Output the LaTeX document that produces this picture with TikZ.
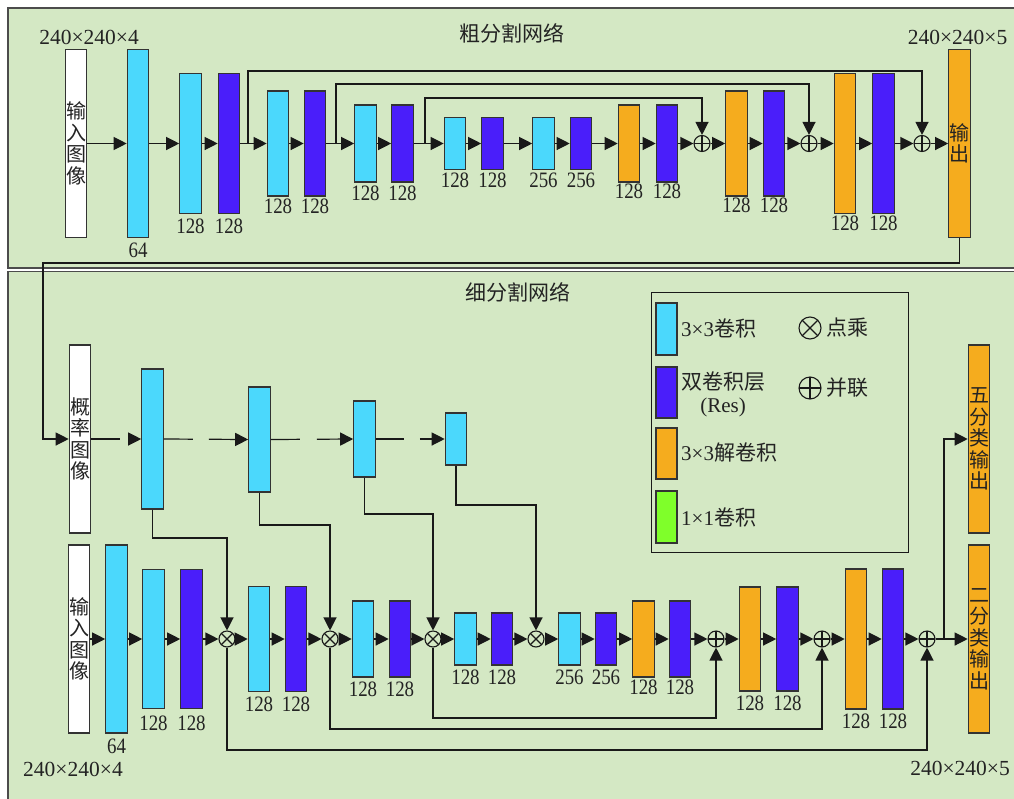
\documentclass[tikz,border=0pt]{standalone}
\usepackage{fontspec}
\setmainfont{Liberation Serif}
\newfontfamily\cjk{Noto Sans CJK SC}
\newfontfamily\numfont[FakeStretch=0.86]{Liberation Serif}
\usetikzlibrary{arrows.meta,calc}
\definecolor{bgG}{RGB}{212,232,196}
\definecolor{cyanB}{RGB}{75,216,252}
\definecolor{violB}{RGB}{74,30,250}
\definecolor{oranB}{RGB}{245,172,30}
\definecolor{greenB}{RGB}{127,255,42}
\definecolor{lineC}{RGB}{25,25,25}
\definecolor{txtC}{RGB}{35,35,35}
\tikzset{
  blk/.style={draw=black!80, line width=1.1pt, minimum width=21.5pt, inner sep=0pt, rectangle},
  cyb/.style={blk, fill=cyanB, minimum height=#1},
  vib/.style={blk, fill=violB, minimum height=#1},
  orb/.style={blk, fill=oranB, minimum height=#1},
  whb/.style={blk, fill=white, minimum height=#1},
  vt/.style={align=center, font=\cjk\fontsize{20}{21.5}\selectfont, text=txtC},
  numlab/.style={font=\numfont\fontsize{22}{24}\selectfont, inner sep=0pt, text=txtC},
  lb/.style 2 args={label={[numlab,yshift=-#1pt]below:#2}},
  dimtxt/.style={font=\fontsize{21.5}{23}\selectfont, inner sep=0pt, text=txtC},
  ttl/.style={font=\cjk\fontsize{21}{23}\selectfont, inner sep=0pt, text=txtC},
  legt/.style={font=\fontsize{21}{23}\selectfont, inner sep=0pt, text=txtC},
  arr/.style={-{Triangle[length=13pt,width=13pt]}, line width=1.2pt, draw=lineC},
  ln/.style={line width=1.2pt, draw=lineC},
  panel/.style={draw=black!70, line width=1.3pt, fill=bgG},
  sumc/.style={circle, draw=lineC, line width=1.1pt, minimum size=16pt, inner sep=0pt,
    path picture={\draw[line width=1.1pt] (path picture bounding box.north) -- (path picture bounding box.south)
      (path picture bounding box.west) -- (path picture bounding box.east);}},
  mulc/.style={circle, draw=lineC, line width=1.1pt, minimum size=16pt, inner sep=0pt,
    path picture={\draw[line width=1.1pt] (path picture bounding box.north west) -- (path picture bounding box.south east)
      (path picture bounding box.south west) -- (path picture bounding box.north east);}},
}
\begin{document}
\begin{tikzpicture}[x=1pt,y=-1pt]
\useasboundingbox (0,0) rectangle (1014,798);
% panels
\draw[panel] (8,8) rectangle (1030,268);
\draw[panel] (8,271.5) rectangle (1030,810);

% ===== top network =====
\node[ttl] (t1) at (512,33) {粗分割网络};
\node[dimtxt] (dA) at (89,37) {240×240×4};
\node[dimtxt] (dB) at (957.5,37) {240×240×5};

\node[whb=188, vt] (in1) at (76,143.5) {输\\入\\图\\像};
\node[cyb=188, lb={5}{64}] (a0) at (138,143.5) {};
\node[cyb=140, lb={5}{128}] (a1) at (190.5,143.5) {};
\node[vib=140, lb={5}{128}] (a2) at (229,143.5) {};
\node[cyb=105, lb={2.5}{128}] (a3) at (278,143.5) {};
\node[vib=105, lb={2.5}{128}] (a4) at (315,143.5) {};
\node[cyb=77, lb={3}{128}] (a5) at (365.5,143.5) {};
\node[vib=77, lb={3}{128}] (a6) at (402.5,143.5) {};
\node[cyb=52, lb={2.5}{128}] (a7) at (455,143.5) {};
\node[vib=52, lb={2.5}{128}] (a8) at (492.5,143.5) {};
\node[cyb=52, lb={2.5}{256}] (a9) at (543.5,143.5) {};
\node[vib=52, lb={2.5}{256}] (a10) at (581,143.5) {};
\node[orb=77, lb={1}{128}] (a11) at (629,143.5) {};
\node[vib=77, lb={1}{128}] (a12) at (667,143.5) {};
\node[sumc] (p1) at (702,143.5) {};
\node[orb=105, lb={1}{128}] (a13) at (736.5,143.5) {};
\node[vib=105, lb={1}{128}] (a14) at (774,143.5) {};
\node[sumc] (p2) at (809,143.5) {};
\node[orb=140, lb={1.5}{128}] (a15) at (845,143.5) {};
\node[vib=140, lb={1.5}{128}] (a16) at (883.5,143.5) {};
\node[sumc] (p3) at (922,143.5) {};
\node[orb=188, vt] (out1) at (959.5,143.5) {输\\出};

\foreach \u/\v in {in1/a0,a0/a1,a1/a2,a2/a3,a3/a4,a4/a5,a5/a6,a6/a7,a7/a8,a8/a9,a9/a10,a10/a11,a11/a12,a12/p1,p1/a13,a13/a14,a14/p2,p2/a15,a15/a16,a16/p3,p3/out1}
  \draw[arr] (\u.east) -- (\v.west);

\coordinate (s1) at (248,143.5);
\coordinate (s2) at (336,143.5);
\coordinate (s3) at (425,143.5);
\coordinate (k1) at (922,71);
\coordinate (k2) at (809,84);
\coordinate (k3) at (702,98);
\draw[arr] (s1) |- (k1) -- (p3.north);
\draw[arr] (s2) |- (k2) -- (p2.north);
\draw[arr] (s3) |- (k3) -- (p1.north);

% ===== bottom network =====
\node[ttl] (t2) at (518,292) {细分割网络};

% legend
\node[draw=lineC, line width=1pt, minimum width=257pt, minimum height=260pt, anchor=north west, inner sep=0pt] (leg) at (651,292) {};
\node[cyb=52, minimum width=21pt] (g1) at (666.5,329) {};
\node[vib=51, minimum width=21pt] (g2) at (666.5,392.5) {};
\node[orb=51, minimum width=21pt] (g3) at (666.5,453.5) {};
\node[blk, fill=greenB, minimum height=52, minimum width=21pt] (g4) at (666.5,517) {};
\node[legt, anchor=west] (g1t) at (681,328) {3×3{\cjk 卷积}};
\node[legt] (g2t) at (723,382) {{\cjk 双卷积层}};
\node[legt] (g2r) at (723,407) {(Res)};
\node[legt, anchor=west] (g3t) at (681,453) {3×3{\cjk 解卷积}};
\node[legt, anchor=west] (g4t) at (681,517) {1×1{\cjk 卷积}};
\node[mulc, minimum size=22pt] (gm) at (810,328) {};
\node[legt, anchor=west] (gmt) at (826,328) {\cjk 点乘};
\node[sumc, minimum size=22pt] (gp) at (810,388) {};
\node[legt, anchor=west] (gpt) at (826,388) {\cjk 并联};

% probability row
\node[whb=188, vt] (pin) at (80,439) {概\\率\\图\\像};
\node[cyb=140] (pc1) at (152.5,439) {};
\node[cyb=105] (pc2) at (259.5,439.5) {};
\node[cyb=76] (pc3) at (364.5,439) {};
\node[cyb=52] (pc4) at (456,439) {};
\coordinate (r1) at (43,263);
\draw[arr] (out1.south) |- (r1) |- (pin.west);
\draw[arr, dash pattern=on 29pt off 9pt on 300pt off 1pt] (pin.east) -- (pc1.west);
\draw[arr, dash pattern=on 29pt off 16pt on 300pt off 1pt] (pc1.east) -- (pc2.west);
\draw[arr, dash pattern=on 29pt off 17pt on 300pt off 1pt] (pc2.east) -- (pc3.west);
\draw[arr, dash pattern=on 28pt off 16pt on 300pt off 1pt] (pc3.east) -- (pc4.west);

% main lower row
\node[whb=188, vt] (in2) at (79,639) {输\\入\\图\\像};
\node[cyb=188, lb={5.5}{64}] (b0) at (116.5,639) {};
\node[cyb=139, lb={6.5}{128}] (b1) at (153.5,639) {};
\node[vib=139, lb={6.5}{128}] (b2) at (191.5,639) {};
\node[mulc] (m1) at (227,639) {};
\node[cyb=105, lb={5}{128}] (b3) at (259,639) {};
\node[vib=105, lb={5}{128}] (b4) at (296,639) {};
\node[mulc] (m2) at (330,639) {};
\node[cyb=76, lb={4.5}{128}] (b5) at (363,639) {};
\node[vib=76, lb={4.5}{128}] (b6) at (400,639) {};
\node[mulc] (m3) at (433,639) {};
\node[cyb=52, lb={4.3}{128}] (b7) at (465.5,639) {};
\node[vib=52, lb={4.3}{128}] (b8) at (502,639) {};
\node[mulc] (m4) at (536,639) {};
\node[cyb=52, lb={4.3}{256}] (b9) at (569.5,639) {};
\node[vib=52, lb={4.3}{256}] (b10) at (606,639) {};
\node[orb=76, lb={2.3}{128}] (b11) at (643.5,639) {};
\node[vib=76, lb={2.3}{128}] (b12) at (680,639) {};
\node[sumc] (q1) at (716,639) {};
\node[orb=104, lb={3.7}{128}] (b13) at (750,639) {};
\node[vib=104, lb={3.7}{128}] (b14) at (787.5,639) {};
\node[sumc] (q2) at (822,639) {};
\node[orb=140, lb={4}{128}] (b15) at (856,639) {};
\node[vib=140, lb={4}{128}] (b16) at (893,639) {};
\node[sumc] (q3) at (927,639) {};
\coordinate (br) at (944,639);
\node[orb=188, vt] (five) at (979,439) {五\\分\\类\\输\\出};
\node[orb=188, vt] (two) at (979,639) {二\\分\\类\\输\\出};
\node[dimtxt] (dC) at (73,769) {240×240×4};
\node[dimtxt] (dD) at (960,768) {240×240×5};

\foreach \u/\v in {in2/b0,b0/b1,b1/b2,b2/m1,m1/b3,b3/b4,b4/m2,m2/b5,b5/b6,b6/m3,m3/b7,b7/b8,b8/m4,m4/b9,b9/b10,b10/b11,b11/b12,b12/q1,q1/b13,b13/b14,b14/q2,q2/b15,b15/b16,b16/q3}
  \draw[arr] (\u.east) -- (\v.west);
\draw[ln] (q3.east) -- (br);
\draw[arr] (br) -- (two.west);
\draw[arr] (br) |- (five.west);

% probability -> multiply
\coordinate (u1) at (227,538);
\coordinate (u2) at (330,525);
\coordinate (u3) at (433,514);
\coordinate (u4) at (536,505);
\draw[arr] (pc1.south) |- (u1) -- (m1.north);
\draw[arr] (pc2.south) |- (u2) -- (m2.north);
\draw[arr] (pc3.south) |- (u3) -- (m3.north);
\draw[arr] (pc4.south) |- (u4) -- (m4.north);

% skip connections below
\coordinate (w1) at (227,750);
\coordinate (w2) at (330,729);
\coordinate (w3) at (433,718);
\draw[arr] (m1.south) -- (w1) -| (q3.south);
\draw[arr] (m2.south) -- (w2) -| (q2.south);
\draw[arr] (m3.south) -- (w3) -| (q1.south);
\end{tikzpicture}
\end{document}
